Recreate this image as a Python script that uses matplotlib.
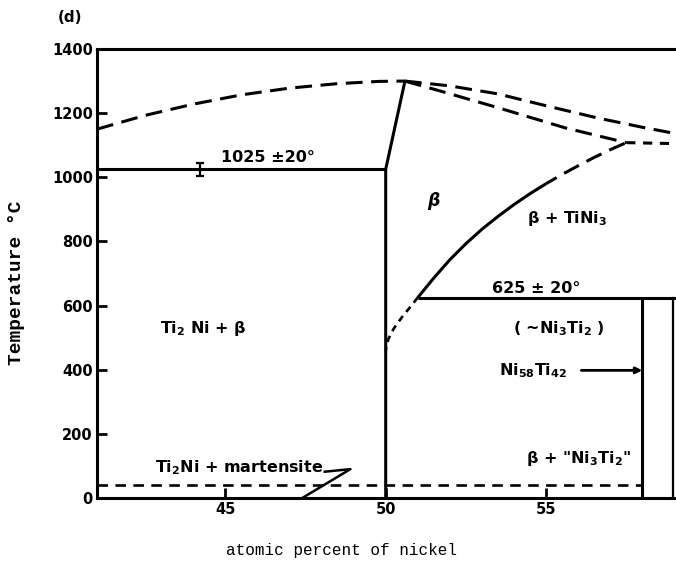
import matplotlib
matplotlib.use("Agg")
import matplotlib.pyplot as plt

plt.rcParams['font.family'] = ['DejaVu Sans']
plt.rcParams['mathtext.default'] = 'bf'

# Liquidus, left branch up to the congruent maximum
liq_left_x = [41.0, 42.5, 44.0, 45.5, 47.0, 48.5, 49.8, 50.6]
liq_left_t = [1150, 1193, 1228, 1257, 1278, 1292, 1299, 1300]

# Liquidus / solidus branches on the Ni-rich side
liq_right_x = [50.6, 52.0, 53.5, 55.0, 56.6, 58.0, 59.05]
liq_right_t = [1300, 1285, 1260, 1223, 1185, 1156, 1136]
sol_right_x = [50.6, 51.7, 53.5, 55.6, 57.5]
sol_right_t = [1300, 1269, 1217, 1154, 1108]
eutectic_x = [57.5, 59.05]
eutectic_t = [1108, 1105]

# beta / beta+TiNi3 solvus (solid part, dashed part, dashed part below 625)
solvus_x = [51.0, 51.5, 52.0, 52.5, 53.0, 53.5, 54.0, 54.5, 55.0]
solvus_t = [625, 686, 743, 793, 838, 878, 915, 949, 980]
solvus_dash_x = [55.0, 55.5, 56.0, 56.5, 57.0, 57.5]
solvus_dash_t = [980, 1009, 1036, 1062, 1086, 1108]
solvus_low_x = [51.0, 50.8, 50.5, 50.25, 50.08, 50.0]
solvus_low_t = [625, 600, 563, 528, 495, 460]

# Ti-rich beta boundary and eutectoid lines
beta_edge_x = [50.0, 50.0, 50.6]
beta_edge_t = [0, 1025, 1300]
eut_hi_t = 1025
eut_hi_err = 20
eut_hi_bar_x = 44.2
eut_lo_t = 625
ni58_x = 58.0
box_x = 58.95
ms_t = 40

# leader line to the Ti2Ni + martensite label
leader_x = [48.1, 48.9, 47.4]
leader_t = [82, 90, 0]

xticks = [45, 50, 55]
yticks = [0, 200, 400, 600, 800, 1000, 1200, 1400]

fig = plt.figure(figsize=(6.76, 5.75), dpi=100)
ax = fig.add_axes([97 / 676, 77 / 575, 579 / 676, 449 / 575])
ax.set_xlim(41, 59.05)
ax.set_ylim(0, 1400)

lw = 2.2
k = dict(color='black', lw=lw, solid_capstyle='butt')
dash = (0, (5.5, 2.8))

ax.plot(liq_left_x, liq_left_t, ls=dash, **k)
ax.plot(liq_right_x, liq_right_t, ls=dash, **k)
ax.plot(sol_right_x, sol_right_t, ls=dash, **k)
ax.plot(eutectic_x, eutectic_t, ls=(0, (3, 2.5)), **k)
ax.plot(solvus_x, solvus_t, **k)
ax.plot(solvus_dash_x, solvus_dash_t, ls=(1.5, (5.5, 2.8)), **k)
ax.plot(solvus_low_x, solvus_low_t, ls=(0, (2.5, 2)), color='black', lw=1.9)
ax.plot(beta_edge_x, beta_edge_t, **k)

ax.plot([41, 50.0], [eut_hi_t, eut_hi_t], **k)
ax.errorbar([eut_hi_bar_x], [eut_hi_t], yerr=[eut_hi_err], fmt='none',
            ecolor='black', elinewidth=1.6, capsize=3, capthick=1.6)
ax.plot([51.0, 59.05], [eut_lo_t, eut_lo_t], **k)
ax.plot([ni58_x, ni58_x], [0, eut_lo_t], **k)
ax.plot([box_x, box_x], [0, eut_lo_t], color='black', lw=1.6)
ax.plot([41, ni58_x], [ms_t, ms_t], ls=(0, (4, 2.8)), color='black', lw=1.9)
ax.plot(leader_x, leader_t, color='black', lw=1.8)

ax.annotate('', xy=(ni58_x, 398), xytext=(56.1, 398),
            arrowprops=dict(arrowstyle='-|>', color='black', lw=2,
                            mutation_scale=9, shrinkA=0, shrinkB=0))

fs = 11.5
tk = dict(fontsize=fs, fontweight='bold', ha='center', va='center')
ax.text(46.33, 1061, '1025 ±20°', **tk)
ax.text(51.5, 927, 'β', fontsize=12.5, fontweight='bold', style='italic',
        ha='center', va='center')
ax.text(55.65, 871, 'β + TiNi$_3$', **tk)
ax.text(54.7, 653, '625 ± 20°', **tk)
ax.text(55.4, 529, '( ~Ni$_3$Ti$_2$ )', **tk)
ax.text(55.65, 398, 'Ni$_{58}$Ti$_{42}$', fontsize=fs, fontweight='bold',
        ha='right', va='center')
ax.text(56.0, 124, 'β + "Ni$_3$Ti$_2$"', **tk)
ax.text(44.3, 529, 'Ti$_2$ Ni + β', **tk)
ax.text(42.8, 96, 'Ti$_2$Ni + martensite', fontsize=fs, fontweight='bold',
        ha='left', va='center')

ax.set_xticks(xticks)
ax.set_yticks(yticks)
ax.tick_params(direction='in', length=7, width=2, pad=3,
               labelsize=10.5, labelcolor='black')
for lab in ax.get_xticklabels() + ax.get_yticklabels():
    lab.set_fontweight('bold')

for side in ['left', 'bottom', 'top']:
    ax.spines[side].set_linewidth(lw)
ax.spines['right'].set_visible(False)

fig.text(342 / 676, 1 - 550 / 575, 'atomic percent of nickel',
         family='Liberation Mono', fontsize=11.5, ha='center', va='center')
fig.text(17 / 676, 1 - 283 / 575, 'Temperature °C', family='Liberation Mono',
         fontweight='bold', fontsize=14, rotation=90, ha='center', va='center')
fig.text(70 / 676, 1 - 18 / 575, '(d)', fontsize=11, fontweight='bold',
         ha='center', va='center')

fig.savefig('out.png', dpi=100)
